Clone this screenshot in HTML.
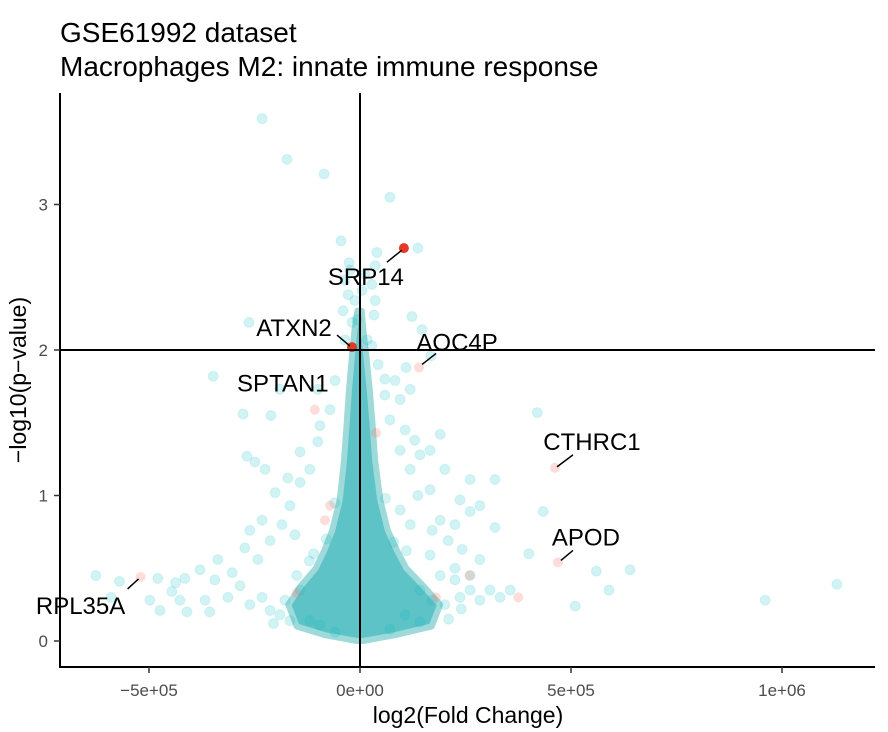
<!DOCTYPE html>
<html><head><meta charset="utf-8">
<style>
body{margin:0;background:#fff;}
svg{display:block;font-family:"Liberation Sans",Arial,sans-serif;}
</style></head>
<body>
<svg id="chart" width="888" height="732" viewBox="0 0 888 732">
  <text x="60" y="42" font-size="28" fill="#000">GSE61992 dataset</text>
  <text x="60" y="76" font-size="28" fill="#000">Macrophages M2: innate immune response</text>
  <g id="core"></g>
  <g id="points"></g>
  <g id="refs"></g>
  <g id="labels"></g>
  <g id="axes"></g>
  <text x="468" y="723" font-size="23" text-anchor="middle">log2(Fold Change)</text>
  <text transform="translate(26,380) rotate(-90)" font-size="23" text-anchor="middle">−log10(p−value)</text>
</svg>
<script>
// ---- data ----
var xTicks = [-500000, 0, 500000, 1000000];
var xTickLabels = ["−5e+05", "0e+00", "5e+05", "1e+06"];
var yTicks = [0, 1, 2, 3];
var yTickLabels = ["0", "1", "2", "3"];
var pThreshold = 2;
var fcThreshold = 0;
// density envelope of the dense core (y, left edge fc, right edge fc)
var coreY     = [0.0, 0.04, 0.10, 0.25, 0.38, 0.50, 0.62, 0.76, 0.97, 1.24, 1.52, 1.73, 1.93, 2.14, 2.27];
var coreLeft  = [-7000, -83000, -150000, -170000, -140000, -105000, -85000, -66000, -48000, -38000, -31000, -26000, -20000, -13000, -6000];
var coreRight = [7000, 83000, 170000, 190000, 150000, 110000, 88000, 66000, 48000, 36000, 29000, 23000, 16000, 8000, 4000];
// scattered genes (fold change, -log10 p)
var bgFC = [-232000,-173000,-85000,71000,-45000,137000,40000,-26000,-36000,-28000,36000,-40000,33000,123000,-263000,147000,-19000,17000,-348000,109000,168000,43000,59000,-190000,-277000,-211000,420000,434000,-268000,400000,
 -626000,-570000,-590000,-437000,-410000,560000,640000,590000,510000,960000,1130000,
 -142000,-178000,-213000,-232000,-261000,-284000,-313000,-344000,-367000,-379000,-337000,-303000,-273000,-242000,-213000,-185000,-154000,-232000,-261000,-166000,-201000,-142000,-119000,-171000,-225000,-142000,-100000,-95000,-249000,-71000,-59000,-100000,-119000,-95000,-166000,-427000,-446000,-415000,-479000,-498000,-356000,-474000,
 142000,171000,201000,237000,261000,284000,308000,332000,356000,190000,225000,261000,284000,242000,209000,166000,171000,190000,225000,261000,284000,320000,119000,142000,130000,166000,190000,107000,95000,71000,95000,119000,83000,59000,261000,237000,320000,166000,95000,119000,137000,201000,107000,142000,71000,-59000,
 -12000,5000,-24000,12000,28000,-7000,-36000,28000,36000,
 -190000,-205000,-150000,-120000,210000,225000,240000,-80000,80000,-60000,60000,-110000,110000];
var bgLogP = [3.59,3.31,3.21,3.05,2.75,2.70,2.67,2.60,2.48,2.38,2.34,2.27,2.24,2.23,2.19,2.14,2.19,2.07,1.82,1.88,1.96,1.90,1.80,1.73,1.56,1.55,1.57,0.89,1.27,0.60,
 0.45,0.41,0.30,0.40,0.20,0.48,0.49,0.35,0.24,0.28,0.39,
 0.35,0.28,0.21,0.30,0.25,0.38,0.30,0.42,0.28,0.49,0.56,0.47,0.64,0.56,0.69,0.80,0.73,0.83,0.76,0.93,1.02,1.09,1.18,1.12,1.18,1.30,1.37,1.48,1.23,1.59,1.79,1.73,0.14,0.11,0.14,0.28,0.34,0.43,0.43,0.28,0.20,0.21,
 0.35,0.28,0.25,0.30,0.35,0.28,0.35,0.30,0.35,0.45,0.50,0.45,0.56,0.63,0.69,0.59,0.76,0.83,0.80,0.89,0.93,0.78,1.18,1.28,1.38,1.31,1.42,1.45,1.31,1.52,1.66,1.73,1.79,1.69,1.11,0.97,1.11,1.04,0.90,0.80,1.00,1.18,0.18,0.13,0.08,0.06,
 2.34,2.41,2.55,2.52,2.45,2.21,2.07,2.03,2.58,
 0.18,0.12,0.45,0.55,0.15,0.42,0.22,0.70,0.68,0.95,0.98,0.60,0.62];
// highlighted genes
var hlGenes = ["SRP14","ATXN2","AOC4P","SPTAN1","CTHRC1","APOD","RPL35A"];
var hlFC    = [104000, -19000, 140000, -107000, 462000, 469000, -520000];
var hlLogP  = [2.70, 2.02, 1.88, 1.59, 1.19, 0.54, 0.44];
var hlSig   = [true, true, false, false, false, false, false];
// other faint pink genes
var pinkFC   = [375000, -71000, -83000, 38000, 180000, -150000, 260000];
var pinkLogP = [0.30, 0.93, 0.83, 1.43, 0.30, 0.33, 0.45];

// ---- axes ----
function sx(v){ return 360 + v * 211 / 500000; }
function sy(v){ return 641 - v * 145.5; }
var NS = "http://www.w3.org/2000/svg";
function mk(tag, attrs, parent){ var e=document.createElementNS(NS,tag); for(var k in attrs) e.setAttribute(k,attrs[k]); parent.appendChild(e); return e; }

var core = document.getElementById('core');
var pts = [];
for (var i=0;i<coreY.length;i++) pts.push(sx(coreLeft[i])+","+sy(coreY[i]));
for (var i=coreY.length-1;i>=0;i--) pts.push(sx(coreRight[i])+","+sy(coreY[i]));
var poly = mk('polygon',{points:pts.join(' '),fill:'#5ec3c6','stroke':'#9fdadb','stroke-width':6,'stroke-linejoin':'round'},core);



var pg = document.getElementById('points');
for (var i=0;i<bgFC.length;i++){
  var c = mk('circle',{cx:sx(bgFC[i]),cy:sy(bgLogP[i]),r:5,fill:'#00BFC4','fill-opacity':0.18,stroke:'#00BFC4','stroke-opacity':0.12,'stroke-width':1},pg);
  
  
}
for (var i=0;i<pinkFC.length;i++){
  var c = mk('circle',{cx:sx(pinkFC[i]),cy:sy(pinkLogP[i]),r:5,fill:'#F8766D','fill-opacity':0.25},pg);
  
  
}
for (var i=0;i<hlFC.length;i++){
  var c = mk('circle',{cx:sx(hlFC[i]),cy:sy(hlLogP[i]),r:5,fill:hlSig[i]?'#e23a26':'#F8766D','fill-opacity':hlSig[i]?1:0.25},pg);
  
  
}

var refs = document.getElementById('refs');
var vl = mk('line',{x1:sx(fcThreshold),x2:sx(fcThreshold),y1:93,y2:667,stroke:'#000','stroke-width':2},refs);


var hl = mk('line',{x1:60,x2:875,y1:sy(pThreshold),y2:sy(pThreshold),stroke:'#000','stroke-width':2},refs);



// label offsets (pixels) relative to point
var lblDX = [-38, -58, 38, -32, 37, 28, -60];
var lblDY = [37, -11, -17, -18, -18, -17, 37];
var segFrom = [[-17,14],[-15,-12],[3,-3],[0,0],[2,-1],[3,-2],[-13,12]];
var segTo   = [[-2,2],[-2,-1],[17,-14],[0,0],[18,-13],[15,-12],[-2,2]];
var lg = document.getElementById('labels');
for (var i=0;i<hlGenes.length;i++){
  var px=sx(hlFC[i]), py=sy(hlLogP[i]);
  if (segFrom[i][0]!==0 || segTo[i][0]!==0){
    var s = mk('line',{x1:px+segFrom[i][0],y1:py+segFrom[i][1],x2:px+segTo[i][0],y2:py+segTo[i][1],stroke:'#000','stroke-width':1.5},lg);
    
    
  }
  var t = mk('text',{x:px+lblDX[i],y:py+lblDY[i],'font-size':24,'text-anchor':'middle',fill:'#000'},lg);
  t.textContent = hlGenes[i];
  
  
}

var ax = document.getElementById('axes');
var yl = mk('line',{x1:60,x2:60,y1:93,y2:668,stroke:'#000','stroke-width':2},ax);


var xl = mk('line',{x1:59,x2:875,y1:667,y2:667,stroke:'#000','stroke-width':2},ax);


for (var i=0;i<yTicks.length;i++){
  var y=sy(yTicks[i]);
  var tk = mk('line',{x1:54,x2:60,y1:y,y2:y,stroke:'#333','stroke-width':1.5},ax);
  
  
  var tl = mk('text',{x:48,y:y+6,'font-size':17,'text-anchor':'end',fill:'#4d4d4d'},ax);
  tl.textContent = yTickLabels[i];
  
  
}
for (var i=0;i<xTicks.length;i++){
  var x=sx(xTicks[i]);
  var tk = mk('line',{x1:x,x2:x,y1:667,y2:673,stroke:'#333','stroke-width':1.5},ax);
  
  
  var tl = mk('text',{x:x,y:696,'font-size':17,'text-anchor':'middle',fill:'#4d4d4d'},ax);
  tl.textContent = xTickLabels[i];
  
  
}
</script>
</body></html>
